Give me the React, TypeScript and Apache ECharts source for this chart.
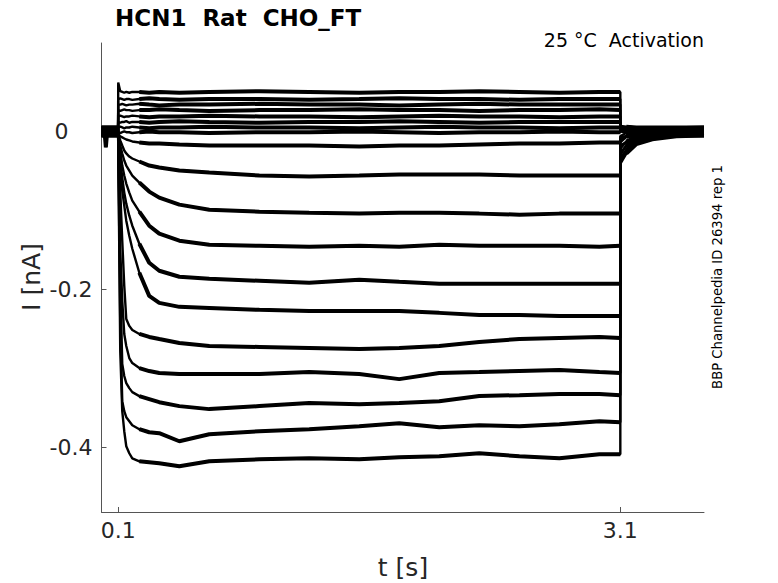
import React, { useEffect, useRef } from "react";
import * as echarts from "echarts";

// time points (s): pre-step, step, tail
const times = [
  0, 0.02, 0.026, 0.032, 0.099,
  0.1, 0.112, 0.124, 0.136, 0.148, 0.166, 0.184, 0.226, 0.285, 0.345, 0.465, 0.644, 0.943, 1.241, 1.54, 1.779, 2.018, 2.257, 2.497, 2.736, 2.975, 3.1,
  3.1, 3.136, 3.196, 3.291, 3.435, 3.6,
];

// currents (nA), one array per sweep
const sweepP1 = [0.004, 0.004, 0.003, 0.004, 0.004,
  0.062, 0.051, 0.05, 0.049, 0.05, 0.049, 0.05, 0.05, 0.049, 0.05, 0.049, 0.05, 0.051, 0.05, 0.049, 0.05, 0.05, 0.051, 0.05, 0.049, 0.05, 0.05,
  0.006, 0.005, 0.004, 0.004, 0.004, 0.004];
const sweepP2 = [-0.002, -0.002, -0.002, -0.002, -0.002,
  0.041, 0.042, 0.041, 0.04, 0.041, 0.041, 0.04, 0.041, 0.042, 0.041, 0.04, 0.041, 0.041, 0.04, 0.041, 0.042, 0.041, 0.041, 0.04, 0.041, 0.041, 0.041,
  0.003, -0.001, -0.002, -0.002, -0.002, -0.002];
const sweepP3 = [0.003, 0.003, 0.003, 0.003, 0.003,
  0.034, 0.034, 0.035, 0.034, 0.033, 0.034, 0.034, 0.035, 0.034, 0.033, 0.034, 0.034, 0.035, 0.034, 0.034, 0.033, 0.034, 0.035, 0.034, 0.034, 0.034, 0.034,
  0.005, 0.004, 0.003, 0.003, 0.003, 0.003];
const sweepP4 = [-0.004, -0.004, -0.004, -0.004, -0.004,
  0.027, 0.026, 0.027, 0.028, 0.027, 0.027, 0.026, 0.027, 0.027, 0.028, 0.027, 0.026, 0.027, 0.027, 0.028, 0.027, 0.027, 0.026, 0.027, 0.027, 0.028, 0.027,
  0.002, -0.002, -0.003, -0.004, -0.004, -0.004];
const sweepP5 = [0.001, 0.001, 0.001, 0.001, 0.001,
  0.019, 0.02, 0.019, 0.018, 0.019, 0.019, 0.02, 0.019, 0.018, 0.019, 0.019, 0.02, 0.019, 0.019, 0.018, 0.019, 0.02, 0.019, 0.019, 0.018, 0.019, 0.019,
  0.003, 0.002, 0.001, 0.001, 0.001, 0.001];
const sweepP6 = [0.005, 0.005, 0.005, 0.005, 0.005,
  0.012, 0.011, 0.012, 0.012, 0.013, 0.011, 0.012, 0.012, 0.011, 0.012, 0.013, 0.012, 0.011, 0.012, 0.012, 0.013, 0.012, 0.011, 0.012, 0.012, 0.012, 0.012,
  0.007, 0.006, 0.005, 0.005, 0.005, 0.005];
const sweepP7 = [-0.003, -0.003, -0.003, -0.003, -0.003,
  0.005, 0.006, 0.005, 0.004, 0.005, 0.005, 0.006, 0.005, 0.004, 0.005, 0.005, 0.006, 0.005, 0.005, 0.004, 0.005, 0.006, 0.005, 0.005, 0.004, 0.005, 0.005,
  0.0, -0.002, -0.003, -0.003, -0.003, -0.003];
const sweepP8 = [0.002, 0.002, 0.002, 0.002, 0.002,
  -0.001, -0.002, -0.001, 0.0, -0.001, -0.001, -0.002, -0.001, 0.0, -0.001, -0.001, -0.002, -0.001, -0.001, 0.0, -0.001, -0.002, -0.001, -0.001, 0.0, -0.001, -0.001,
  0.001, 0.002, 0.002, 0.002, 0.002, 0.002];
const sweepA = [-0.005, -0.005, -0.005, -0.005, -0.005,
  -0.0038, -0.0063, -0.0076, -0.0089, -0.0102, -0.0114, -0.0127, -0.014, -0.0152, -0.0152, -0.0165, -0.0178, -0.0178, -0.0178, -0.019, -0.0178, -0.0178, -0.0165, -0.0152, -0.0152, -0.014, -0.014,
  -0.007, -0.006, -0.005, -0.005, -0.005, -0.005];
const sweepB = [0.003, 0.003, 0.003, 0.003, 0.003,
  -0.0038, -0.0114, -0.0178, -0.0241, -0.0279, -0.0318, -0.0343, -0.0381, -0.0432, -0.0457, -0.0495, -0.0521, -0.0559, -0.0571, -0.0559, -0.0546, -0.0546, -0.0546, -0.0559, -0.0559, -0.0559, -0.0559,
  -0.006, -0.002, 0.0, 0.002, 0.003, 0.003];
const sweepC = [-0.001, -0.001, -0.001, -0.001, -0.001,
  -0.0051, -0.0178, -0.0279, -0.0368, -0.0432, -0.0495, -0.0559, -0.0648, -0.0762, -0.0838, -0.0927, -0.0991, -0.1016, -0.1029, -0.1041, -0.1029, -0.1029, -0.1041, -0.1054, -0.1041, -0.1041, -0.1041,
  -0.01, -0.006, -0.004, -0.002, -0.001, -0.001];
const sweepD = [0.004, 0.004, 0.004, 0.004, 0.004,
  -0.0063, -0.0241, -0.0432, -0.0559, -0.066, -0.0775, -0.0876, -0.1016, -0.1194, -0.1295, -0.1384, -0.1435, -0.1448, -0.146, -0.1448, -0.146, -0.1435, -0.1448, -0.1448, -0.1448, -0.146, -0.1448,
  -0.014, -0.007, -0.002, 0.002, 0.004, 0.004];
const sweepE = [-0.004, -0.004, -0.004, -0.004, -0.004,
  -0.0076, -0.0368, -0.0584, -0.0775, -0.0914, -0.1067, -0.1194, -0.1422, -0.1663, -0.1765, -0.1841, -0.1867, -0.1892, -0.1917, -0.1879, -0.1905, -0.193, -0.193, -0.193, -0.193, -0.193, -0.193,
  -0.018, -0.013, -0.009, -0.006, -0.004, -0.004];
const sweepF = [0.002, 0.002, 0.002, 0.002, 0.002,
  -0.0089, -0.0495, -0.0749, -0.094, -0.113, -0.1321, -0.1486, -0.179, -0.2083, -0.2171, -0.2222, -0.2235, -0.226, -0.2273, -0.2273, -0.2273, -0.2298, -0.2324, -0.2324, -0.2337, -0.2337, -0.2337,
  -0.022, -0.013, -0.006, -0.001, 0.002, 0.002];
const sweepG = [-0.002, -0.002, -0.002, -0.002, -0.002,
  -0.0102, -0.0749, -0.1384, -0.1956, -0.2375, -0.2463, -0.2514, -0.2565, -0.2603, -0.2629, -0.2679, -0.2717, -0.273, -0.2743, -0.2756, -0.2743, -0.2717, -0.2667, -0.2629, -0.2616, -0.2603, -0.2616,
  -0.027, -0.018, -0.011, -0.006, -0.003, -0.002];
const sweepH = [0.005, 0.005, 0.005, 0.005, 0.005,
  -0.0114, -0.1511, -0.2146, -0.2565, -0.2717, -0.287, -0.2934, -0.2997, -0.3035, -0.306, -0.3073, -0.3073, -0.3073, -0.3048, -0.3073, -0.3137, -0.306, -0.3048, -0.3035, -0.3022, -0.3048, -0.306,
  -0.03, -0.018, -0.007, 0.001, 0.004, 0.005];
const sweepI = [-0.003, -0.003, -0.003, -0.003, -0.003,
  -0.0127, -0.1892, -0.2946, -0.3098, -0.3187, -0.3251, -0.3302, -0.3352, -0.339, -0.3429, -0.3479, -0.3517, -0.3479, -0.3441, -0.3454, -0.3441, -0.3416, -0.3352, -0.334, -0.3327, -0.3327, -0.334,
  -0.034, -0.023, -0.014, -0.008, -0.004, -0.003];
const sweepJ = [0.001, 0.001, 0.001, 0.001, 0.001,
  -0.014, -0.24, -0.3416, -0.3543, -0.3619, -0.367, -0.3721, -0.3771, -0.381, -0.3822, -0.3924, -0.3835, -0.3797, -0.3771, -0.3733, -0.3695, -0.3746, -0.3721, -0.3733, -0.3708, -0.367, -0.3683,
  -0.038, -0.025, -0.013, -0.005, 0.0, 0.001];
const sweepK = [-0.005, -0.005, -0.02, -0.005, -0.005,
  -0.0152, -0.2781, -0.3543, -0.3797, -0.3987, -0.4076, -0.414, -0.4178, -0.419, -0.4203, -0.4241, -0.4178, -0.4152, -0.414, -0.4152, -0.4127, -0.4114, -0.4076, -0.4114, -0.414, -0.4089, -0.4089,
  -0.041, -0.028, -0.016, -0.01, -0.006, -0.005];

const sweeps = [sweepP1, sweepP2, sweepP3, sweepP4, sweepP5, sweepP6, sweepP7, sweepP8,
  sweepA, sweepB, sweepC, sweepD, sweepE, sweepF, sweepG, sweepH, sweepI, sweepJ, sweepK];

const xTicks = [0.1, 3.1];
const yTicks = [-0.4, -0.2, 0];

const titleText = "HCN1  Rat  CHO_FT";
const subtitleText = "25 °C  Activation";
const sideText = "BBP Channelpedia ID 26394 rep 1";
const xName = "t [s]";
const yName = "I [nA]";

const FONT = "DejaVu Sans";

// indices that belong to the thick (noisy-looking) steady parts
const isSteady = (j: number) => j <= 4 || (j >= 12 && j <= 26) || j >= 28;

export default function App() {
  const ref = useRef<HTMLDivElement>(null);
  useEffect(() => {
    if (!ref.current) return;
    const chart = echarts.init(ref.current, null, { renderer: "svg" });
    const thin = sweeps.map((vals, i) => ({
      type: "line",
      name: "thin" + i,
      data: vals.map((v, j) => [times[j], v]),
      showSymbol: false,
      symbol: "none",
      lineStyle: { color: "#000", width: 2.4 },
      silent: true,
    }));
    const thick = sweeps.map((vals, i) => ({
      type: "line",
      name: "thick" + i,
      data: vals.map((v, j) => (isSteady(j) ? [times[j], v] : [times[j], null])),
      connectNulls: false,
      showSymbol: false,
      symbol: "none",
      lineStyle: { color: "#000", width: 4 },
      silent: true,
    }));
    chart.setOption({
      animation: false,
      backgroundColor: "#fff",
      grid: { left: 101.5, top: 43, right: 74, bottom: 71, containLabel: false },
      xAxis: {
        type: "value",
        min: 0,
        max: 3.6,
        axisLine: { show: true, onZero: false, lineStyle: { color: "#555", width: 1 } },
        axisTick: { show: true, inside: true, length: 5, customValues: xTicks, lineStyle: { color: "#555" } },
        axisLabel: {
          customValues: xTicks,
          formatter: (v: number) => String(v),
          fontSize: 22,
          color: "#262626",
          fontFamily: FONT,
          margin: 7,
        },
        splitLine: { show: false },
      },
      yAxis: {
        type: "value",
        min: -0.482,
        max: 0.112,
        axisLine: { show: true, onZero: false, lineStyle: { color: "#555", width: 1 } },
        axisTick: { show: true, inside: true, length: 5, customValues: yTicks, lineStyle: { color: "#555" } },
        axisLabel: {
          customValues: yTicks,
          formatter: (v: number) => (Math.abs(v) < 1e-9 ? "{z|0}" : v.toFixed(1)),
          fontSize: 22,
          color: "#262626",
          fontFamily: FONT,
          margin: 9,
          rich: { z: { fontSize: 22, color: "#262626", fontFamily: FONT, padding: [0, 24, 0, 0] } },
        },
        splitLine: { show: false },
      },
      graphic: [
        { type: "text", x: 115, y: 18, style: { text: titleText, font: `bold 23px "${FONT}"`, fill: "#000", verticalAlign: "middle", align: "left" } },
        { type: "text", x: 704, y: 40, style: { text: subtitleText, font: `19px "${FONT}"`, fill: "#000", verticalAlign: "middle", align: "right" } },
        { type: "text", x: 717, y: 277, rotation: Math.PI / 2, style: { text: sideText, font: `13.2px "${FONT}"`, fill: "#000", verticalAlign: "middle", align: "center" } },
        { type: "text", x: 403, y: 567, style: { text: xName, font: `25px "${FONT}"`, fill: "#262626", verticalAlign: "middle", align: "center" } },
        { type: "text", x: 31, y: 277, rotation: Math.PI / 2, style: { text: yName, font: `25px "${FONT}"`, fill: "#262626", verticalAlign: "middle", align: "center" } },
      ],
      series: [...thin, ...thick],
    });
    return () => chart.dispose();
  }, []);
  return (
    <div
      ref={ref}
      style={{ position: "fixed", left: 0, top: 0, width: 778, height: 583, background: "#fff" }}
    />
  );
}
